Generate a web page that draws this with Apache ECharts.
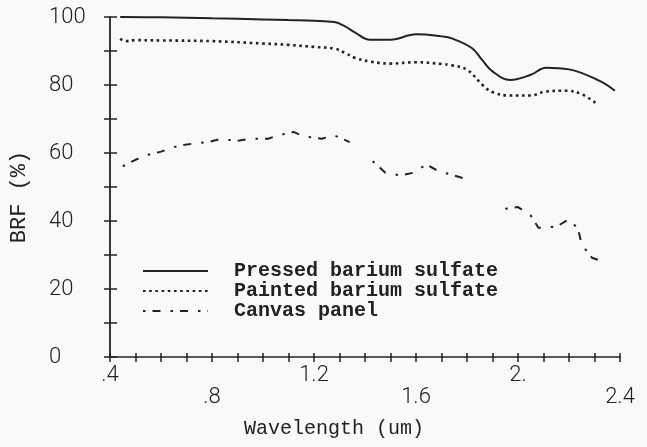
<!DOCTYPE html>
<html>
<head>
<meta charset="utf-8">
<script src="https://cdn.jsdelivr.net/npm/echarts@6/dist/echarts.min.js"></script>
<style>html,body{margin:0;padding:0;background:#f9f9f7;}#c{width:647px;height:447px;}</style>
</head>
<body>
<div id="c"></div>
<script>
const xTickLabels = ['.4', '.8', '1.2', '1.6', '2.', '2.4'];
const yTickLabels = ['0', '20', '40', '60', '80', '100'];
const seriesNames = ['Pressed barium sulfate', 'Painted barium sulfate', 'Canvas panel'];

const pressedWl  = [0.44, 0.6, 0.8, 1.0, 1.1, 1.2, 1.28, 1.32, 1.36, 1.42, 1.5, 1.6, 1.7, 1.74, 1.82, 1.86, 1.9, 1.97, 2.05, 2.11, 2.2, 2.32, 2.38];
const pressedBrf = [100, 99.9, 99.6, 99.3, 99.1, 98.9, 98.5, 97.3, 95.5, 93.3, 93.3, 94.9, 94.3, 93.7, 90.8, 87.3, 84.0, 81.5, 83.0, 85.1, 84.6, 81.2, 78.3];

const paintedWl  = [0.44, 0.46, 0.5, 0.6, 0.8, 1.0, 1.1, 1.2, 1.28, 1.32, 1.36, 1.42, 1.5, 1.6, 1.7, 1.74, 1.8, 1.86, 1.9, 1.97, 2.05, 2.11, 2.19, 2.25, 2.31];
const paintedBrf = [93.6, 92.9, 93.2, 93.1, 92.9, 92.2, 91.8, 91.2, 90.7, 89.5, 88.0, 86.9, 86.3, 86.7, 86.2, 85.8, 84.5, 80.1, 77.9, 76.9, 76.9, 78.1, 78.3, 77.3, 74.4];

const canvasWl  = [0.45, 0.5, 0.55, 0.6, 0.67, 0.72, 0.79, 0.83, 0.9, 0.95, 1.02, 1.06, 1.12, 1.16, 1.23, 1.28, 1.34, 1.39, 1.43, 1.48, 1.54, 1.59, 1.64, 1.69, 1.75, 1.81, 1.88, 1.95, 2.0, 2.05, 2.08, 2.15, 2.2, 2.235, 2.25, 2.29, 2.34];
const canvasBrf = [56.1, 58.0, 59.5, 60.4, 62.2, 62.7, 63.3, 64.1, 63.6, 64.2, 64.2, 65.2, 66.2, 64.9, 64.2, 65.2, 63.2, null, 57.6, 54.2, 53.4, 54.2, 56.6, 54.6, 53.4, 52.0, null, 43.6, 44.1, 41.6, 38.0, 38.3, 40.5, 37.8, 33.0, 29.2, 27.9];

function pairs(xs, ys) { return xs.map((x, i) => [x, ys[i] === null ? '-' : ys[i]]); }

const ink = '#222';
const monoFont = '"Liberation Mono", "DejaVu Sans Mono", monospace';
const tickFont = 'Roboto, "Liberation Sans", sans-serif';

function xLabel(v) {
  const k = Math.round(v * 10);
  if (k % 4 !== 0) return '';
  const idx = k / 4 - 1;
  const t = xTickLabels[idx];
  if (t === undefined) return '';
  return idx % 2 === 0 ? t : '\n' + t;
}
function yLabel(v) {
  const k = Math.round(v);
  if (k % 20 !== 0) return '';
  return yTickLabels[k / 20] || '';
}

const chart = echarts.init(document.getElementById('c'), null, { renderer: 'canvas' });
chart.setOption({
  backgroundColor: '#f9f9f7',
  animation: false,
  grid: { left: 103, right: 27, top: 17, bottom: 90, containLabel: false },
  legend: {
    orient: 'vertical', left: 142, top: 261, padding: 0,
    itemWidth: 65, itemHeight: 14, itemGap: 0,
    data: seriesNames,
    itemStyle: { opacity: 0 },
    textStyle: { fontFamily: monoFont, fontSize: 20, lineHeight: 20, fontWeight: 'bold', color: ink, padding: [0, 0, 0, 21] },
    selectedMode: false
  },
  xAxis: [
    {
      type: 'value', min: 0.4, max: 2.4, interval: 0.1, position: 'bottom',
      name: 'Wavelength (um)', nameLocation: 'middle', nameGap: 62,
      nameTextStyle: { fontFamily: monoFont, fontSize: 20, color: ink, padding: [0, 62, 0, 0] },
      axisLine: { show: true, onZero: false, lineStyle: { color: ink, width: 1.6 } },
      axisTick: { show: true, length: 5, lineStyle: { color: ink, width: 1.5 } },
      axisLabel: { formatter: xLabel, margin: 7, fontFamily: tickFont, fontWeight: 300, fontSize: 22, color: ink, lineHeight: 22, showMinLabel: true, showMaxLabel: true, hideOverlap: false },
      splitLine: { show: false }
    },
    {
      type: 'value', min: 0.4, max: 2.4, interval: 0.1, position: 'bottom',
      axisLine: { show: false, onZero: false },
      axisTick: { show: true, inside: true, length: 4, lineStyle: { color: ink, width: 1.5 } },
      axisLabel: { show: false }, splitLine: { show: false }
    }
  ],
  yAxis: [
    {
      type: 'value', min: 0, max: 100, interval: 10, position: 'left',
      name: 'BRF (%)', nameLocation: 'middle', nameGap: 80, nameRotate: 90,
      nameTextStyle: { fontFamily: monoFont, fontSize: 22, color: ink, padding: [0, 20, 0, 0] },
      axisLine: { show: true, onZero: false, lineStyle: { color: ink, width: 1.8 } },
      axisTick: { show: true, length: 6, lineStyle: { color: ink, width: 1.5 } },
      axisLabel: { formatter: yLabel, align: 'left', margin: 61, fontFamily: tickFont, fontWeight: 300, fontSize: 22, color: ink },
      splitLine: { show: false }
    },
    {
      type: 'value', min: 0, max: 100, interval: 10, position: 'left',
      axisLine: { show: false, onZero: false },
      axisTick: { show: true, inside: true, length: 7, lineStyle: { color: ink, width: 1.5 } },
      axisLabel: { show: false }, splitLine: { show: false }
    }
  ],
  series: [
    {
      name: seriesNames[0], type: 'line', xAxisIndex: 0, yAxisIndex: 0,
      data: pairs(pressedWl, pressedBrf), smooth: 0.4, symbol: 'none',
      lineStyle: { color: ink, width: 2 }, itemStyle: { color: ink }
    },
    {
      name: seriesNames[1], type: 'line', xAxisIndex: 0, yAxisIndex: 0,
      data: pairs(paintedWl, paintedBrf), smooth: 0.4, symbol: 'none',
      lineStyle: { color: ink, width: 2.6, type: [2.6, 3.6] }, itemStyle: { color: ink }
    },
    {
      name: seriesNames[2], type: 'line', xAxisIndex: 0, yAxisIndex: 0,
      data: pairs(canvasWl, canvasBrf), smooth: false, connectNulls: false, symbol: 'none',
      lineStyle: { color: ink, width: 2, type: [2.5, 7, 8, 10] }, itemStyle: { color: ink }
    }
  ]
});
</script>
</body>
</html>
